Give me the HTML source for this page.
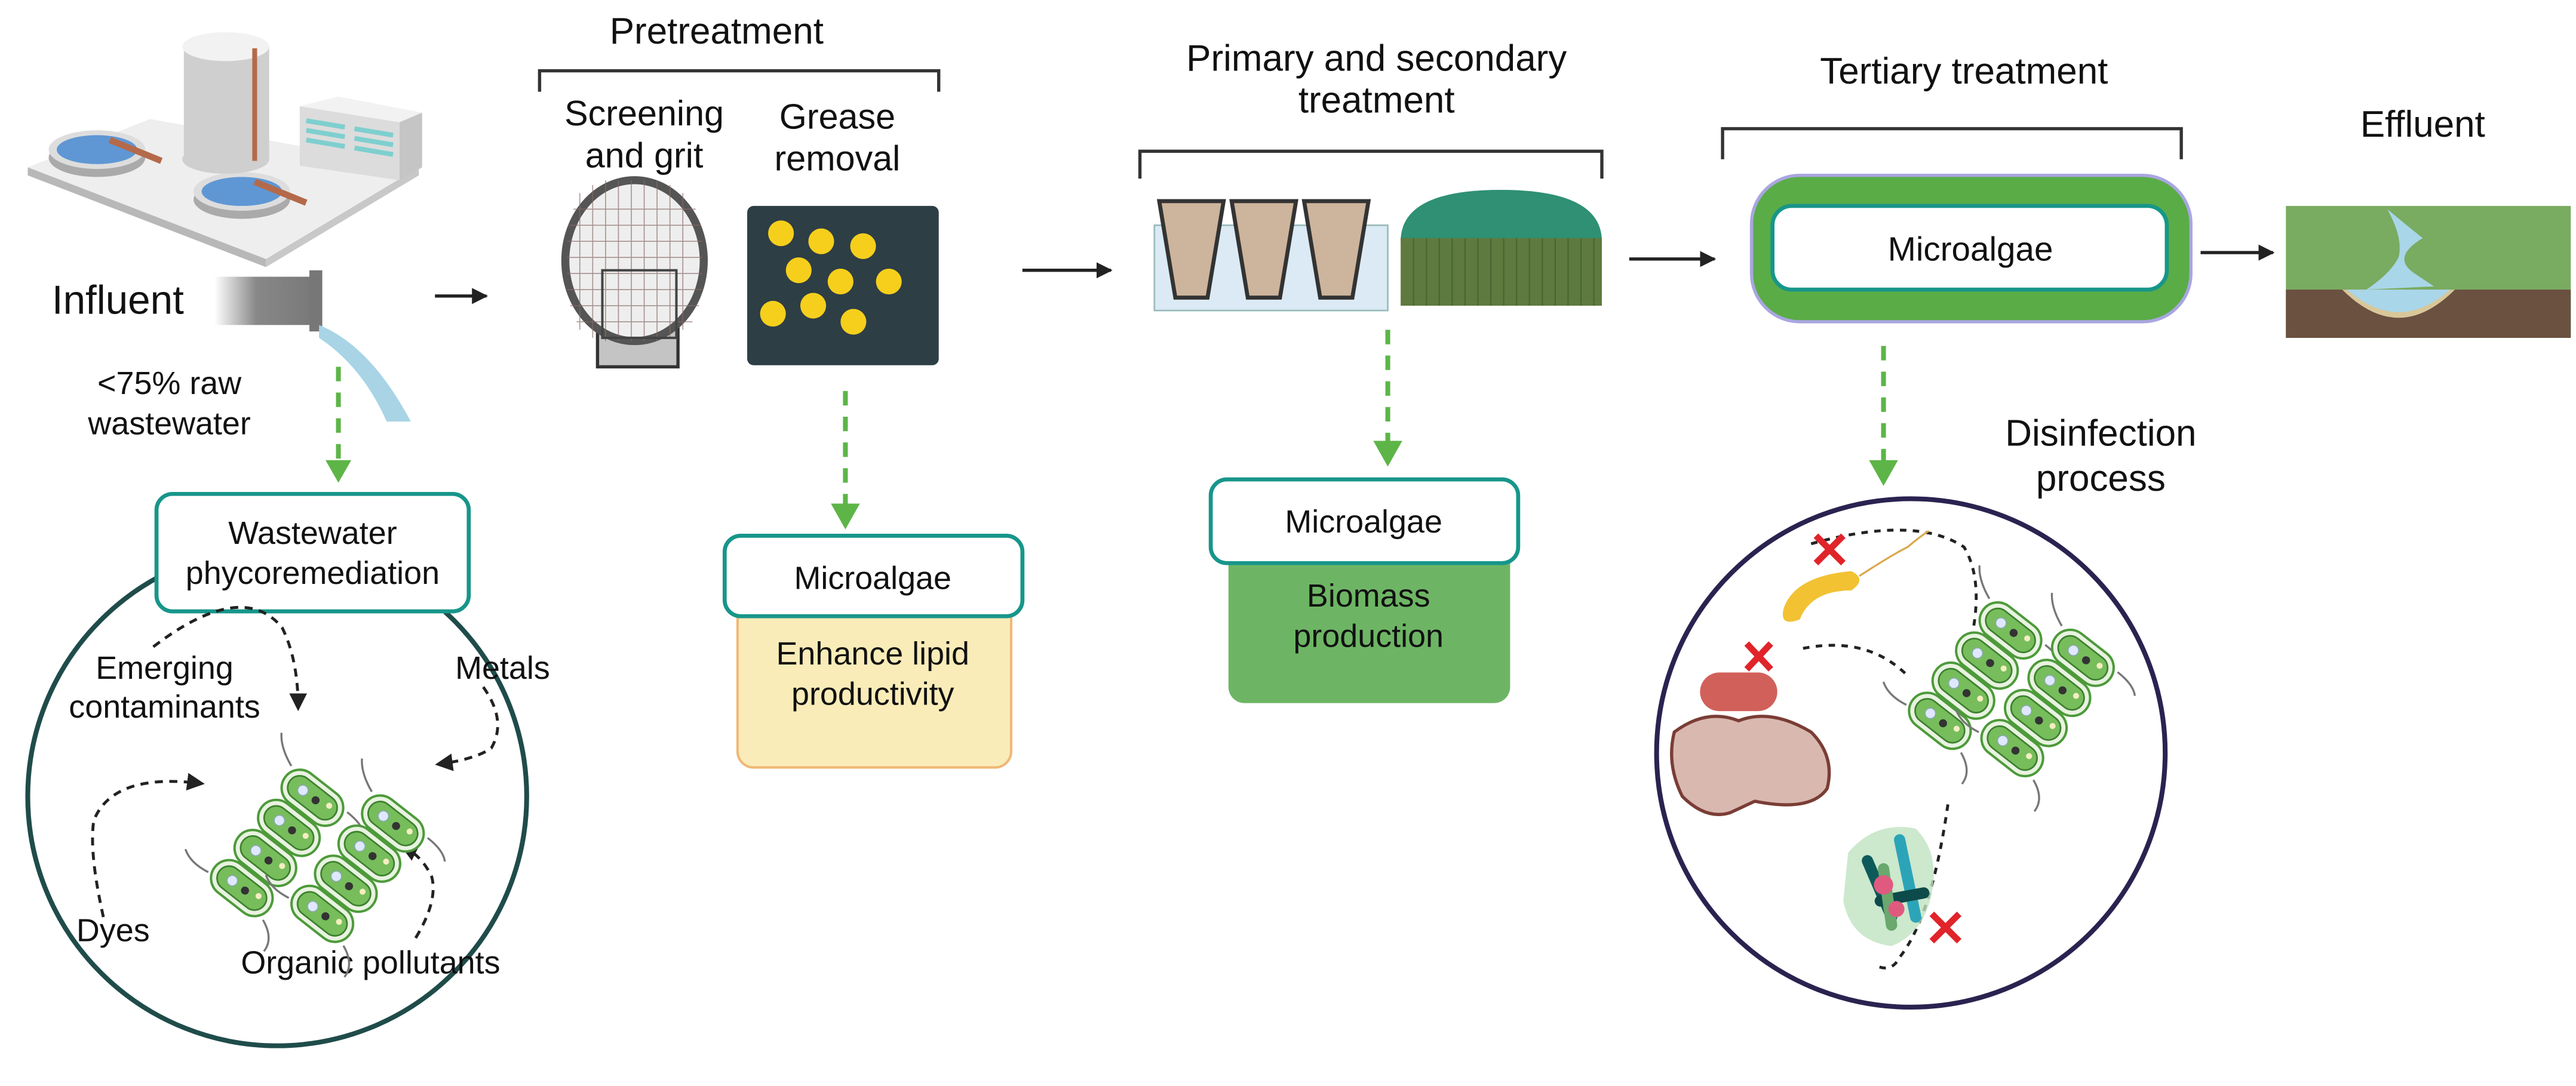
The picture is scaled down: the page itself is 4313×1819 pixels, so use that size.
<!DOCTYPE html>
<html><head><meta charset="utf-8"><style>
html,body{margin:0;padding:0;background:#fff}
svg{display:block}
text{font-family:"Liberation Sans",sans-serif;fill:#111}
</style></head><body>
<svg width="4313" height="1819" viewBox="0 0 1600 675" xmlns="http://www.w3.org/2000/svg">
<defs>
<marker id="ab" markerWidth="10" markerHeight="10" refX="9" refY="5" orient="auto" markerUnits="userSpaceOnUse"><path d="M0,0 L10,5 L0,10 Z" fill="#222"/></marker>
<marker id="ad" markerWidth="11" markerHeight="11" refX="9" refY="5.5" orient="auto" markerUnits="userSpaceOnUse"><path d="M0,0 L11,5.5 L0,11 Z" fill="#222"/></marker>
<linearGradient id="pipe" x1="0" x2="1"><stop offset="0" stop-color="#fff"/><stop offset="0.4" stop-color="#888"/><stop offset="1" stop-color="#777"/></linearGradient>
<g id="cell">
<rect x="-9" y="-17" width="18" height="34" rx="9" fill="#e8f3e0" stroke="#4d9a3a" stroke-width="1.2"/>
<rect x="-6" y="-14" width="12" height="28" rx="6" fill="#77bd5c" stroke="#3d7f2e" stroke-width="0.8"/>
<circle cx="0" cy="-6" r="2.6" fill="#dfe8ff" stroke="#8aa" stroke-width="0.5"/>
<circle cx="0" cy="2" r="2" fill="#333"/>
<circle cx="2" cy="9" r="1.5" fill="#f4eec0"/>
</g>
<g id="chain">
<use href="#cell" x="0" y="0"/><use href="#cell" x="19" y="0"/><use href="#cell" x="38" y="0"/><use href="#cell" x="57" y="0"/>
<path d="M-6,18 q-4,10 -12,10 M63,-18 q4,-10 10,-14 M-4,-18 q-2,-10 2,-16 M62,18 q0,10 -4,14" fill="none" stroke="#777" stroke-width="1"/>
</g>
</defs>

<!-- Plant -->
<g>
<polygon points="17,104 93,74 260,104 165,161" fill="#eeeeee"/>
<polygon points="17,104 165,161 165,166 17,109" fill="#b8b8b8"/>
<polygon points="165,161 260,104 260,109 165,166" fill="#c8c8c8"/>
<ellipse cx="60" cy="98" rx="30" ry="12" fill="#aaa"/><ellipse cx="60" cy="93" rx="30" ry="12" fill="#ddd"/><ellipse cx="60" cy="93" rx="25" ry="9" fill="#5f97d4"/>
<ellipse cx="150" cy="124" rx="30" ry="12" fill="#aaa"/><ellipse cx="150" cy="119" rx="30" ry="12" fill="#ddd"/><ellipse cx="150" cy="119" rx="25" ry="9" fill="#5f97d4"/>
<path d="M68,87 L100,100 M158,113 L190,126" stroke="#b46a4a" stroke-width="4"/>
<rect x="114" y="29" width="53" height="70" fill="#cfcfcf"/><ellipse cx="140" cy="29" rx="27" ry="9" fill="#f2f2f2"/><ellipse cx="140" cy="99" rx="27" ry="9" fill="#cfcfcf"/>
<line x1="158" y1="30" x2="158" y2="100" stroke="#b46a4a" stroke-width="3"/>
<polygon points="186,66 248,76 248,112 186,103" fill="#dcdcdc"/><polygon points="186,66 210,60 262,70 248,76" fill="#f2f2f2"/><polygon points="248,76 262,70 262,104 248,112" fill="#c5c5c5"/>
<path d="M190,75 L214,79 M190,81 L214,85 M190,87 L214,91 M220,80 L244,84 M220,86 L244,90 M220,92 L244,96" stroke="#7fcfcf" stroke-width="3"/>
</g>

<!-- Influent -->
<text x="32" y="195" font-size="25">Influent</text>
<rect x="133" y="172" width="65" height="30" fill="url(#pipe)"/>
<rect x="192" y="168" width="8" height="38" fill="#777"/>
<path d="M198,202 Q230,215 255,262 L240,262 Q225,228 198,210 Z" fill="#a8d4e6"/>
<text x="105" y="245" font-size="20" text-anchor="middle">&lt;75% raw</text>
<text x="105" y="270" font-size="20" text-anchor="middle">wastewater</text>
<line x1="210" y1="228" x2="210" y2="288" stroke="#5db548" stroke-width="3" stroke-dasharray="9,7"/>
<path d="M202,286 L218,286 L210,300 Z" fill="#5db548"/>

<ellipse cx="172" cy="495" rx="155" ry="155" fill="none" stroke="#1f4c4a" stroke-width="3"/>
<rect x="97" y="307" width="194" height="73" rx="10" fill="#fff" stroke="#17968a" stroke-width="2.5"/>
<text x="194" y="338" font-size="20" text-anchor="middle">Wastewater</text>
<text x="194" y="363" font-size="20" text-anchor="middle">phycoremediation</text>
<text x="102" y="422" font-size="20" text-anchor="middle">Emerging</text>
<text x="102" y="446" font-size="20" text-anchor="middle">contaminants</text>
<text x="312" y="422" font-size="20" text-anchor="middle">Metals</text>
<text x="70" y="585" font-size="20" text-anchor="middle">Dyes</text>
<text x="230" y="605" font-size="20" text-anchor="middle">Organic pollutants</text>
<g fill="none" stroke="#222" stroke-width="1.8" stroke-dasharray="5,4">
<path d="M95,402 Q150,360 175,390 Q185,410 185,440" marker-end="url(#ad)"/>
<path d="M300,427 Q315,448 305,465 Q295,472 272,475" marker-end="url(#ad)"/>
<path d="M64,570 Q55,530 58,510 Q70,480 125,487" marker-end="url(#ad)"/>
<path d="M258,583 Q272,560 268,545 Q262,532 250,526" marker-end="url(#ad)"/>
</g>
<g transform="translate(150,552) rotate(-52) scale(1.25)"><use href="#chain"/></g>
<g transform="translate(200,568) rotate(-52) scale(1.25)"><use href="#chain"/></g>

<!-- arrow1 -->
<line x1="270" y1="184" x2="302" y2="184" stroke="#222" stroke-width="2" marker-end="url(#ab)"/>

<!-- Pretreatment -->
<text x="445" y="27" font-size="23" text-anchor="middle">Pretreatment</text>
<path d="M335,57 V44 H583 V57" fill="none" stroke="#333" stroke-width="2"/>
<text x="400" y="78" font-size="22" text-anchor="middle">Screening</text>
<text x="400" y="104" font-size="22" text-anchor="middle">and grit</text>
<text x="520" y="80" font-size="22" text-anchor="middle">Grease</text>
<text x="520" y="106" font-size="22" text-anchor="middle">removal</text>
<rect x="371" y="165" width="50" height="63" fill="#c4c4c4" stroke="#333" stroke-width="2"/>
<ellipse cx="394" cy="162" rx="43" ry="50" fill="#eee" stroke="#555" stroke-width="5"/>
<g stroke="#8a6a6a" stroke-width="0.6" opacity="0.7">
<path d="M360,120 V205 M368,115 V210 M376,112 V212 M384,112 V212 M392,112 V212 M400,112 V212 M408,112 V212 M416,115 V210 M424,120 V205 M356,130 H432 M353,140 H435 M352,150 H436 M352,160 H436 M352,170 H436 M352,180 H436 M354,190 H434 M358,200 H430"/>
</g>
<rect x="374" y="168" width="46" height="42" fill="none" stroke="#444" stroke-width="1.5"/>
<rect x="464" y="128" width="119" height="99" rx="4" fill="#2d3e45"/>
<g fill="#f6cf1c"><circle cx="485" cy="145" r="8"/><circle cx="510" cy="150" r="8"/><circle cx="536" cy="153" r="8"/><circle cx="496" cy="168" r="8"/><circle cx="522" cy="175" r="8"/><circle cx="552" cy="175" r="8"/><circle cx="480" cy="195" r="8"/><circle cx="505" cy="190" r="8"/><circle cx="530" cy="200" r="8"/></g>
<line x1="525" y1="243" x2="525" y2="315" stroke="#5db548" stroke-width="3" stroke-dasharray="9,7"/>
<path d="M516,313 L534,313 L525,329 Z" fill="#5db548"/>
<rect x="458" y="375" width="170" height="102" rx="10" fill="#f9ecb8" stroke="#f0b777" stroke-width="1.5"/>
<rect x="450" y="333" width="185" height="50" rx="10" fill="#fff" stroke="#17968a" stroke-width="2.5"/>
<text x="542" y="366" font-size="20" text-anchor="middle">Microalgae</text>
<text x="542" y="413" font-size="20" text-anchor="middle" fill="#333">Enhance lipid</text>
<text x="542" y="438" font-size="20" text-anchor="middle" fill="#333">productivity</text>

<!-- arrow2 -->
<line x1="635" y1="168" x2="690" y2="168" stroke="#222" stroke-width="2" marker-end="url(#ab)"/>

<!-- Primary & secondary -->
<text x="855" y="44" font-size="23" text-anchor="middle">Primary and secondary</text>
<text x="855" y="70" font-size="23" text-anchor="middle">treatment</text>
<path d="M708,111 V94 H995 V111" fill="none" stroke="#333" stroke-width="2"/>
<rect x="717" y="140" width="145" height="53" fill="#dbeaf4" stroke="#9bb" stroke-width="1"/>
<g fill="#cdb49c" stroke="#333" stroke-width="2.5">
<path d="M720,125 L760,125 L750,185 L730,185 Z"/>
<path d="M765,125 L805,125 L795,185 L775,185 Z"/>
<path d="M810,125 L850,125 L840,185 L820,185 Z"/>
</g>
<path d="M870,150 Q870,118 932,118 Q995,118 995,150 Z" fill="#2f9074"/>
<rect x="870" y="148" width="125" height="42" fill="#5e7a3e"/>
<g stroke="#4a6530" stroke-width="0.8"><path d="M878,148V190M886,148V190M894,148V190M902,148V190M910,148V190M918,148V190M926,148V190M934,148V190M942,148V190M950,148V190M958,148V190M966,148V190M974,148V190M982,148V190M990,148V190"/></g>
<line x1="862" y1="205" x2="862" y2="275" stroke="#5db548" stroke-width="3" stroke-dasharray="9,7"/>
<path d="M853,274 L871,274 L862,290 Z" fill="#5db548"/>
<rect x="763" y="340" width="175" height="97" rx="10" fill="#6db564"/>
<rect x="752" y="298" width="191" height="52" rx="10" fill="#fff" stroke="#17968a" stroke-width="2.5"/>
<text x="847" y="331" font-size="20" text-anchor="middle">Microalgae</text>
<text x="850" y="377" font-size="20" text-anchor="middle" fill="#333">Biomass</text>
<text x="850" y="402" font-size="20" text-anchor="middle" fill="#333">production</text>

<!-- arrow3 -->
<line x1="1012" y1="161" x2="1065" y2="161" stroke="#222" stroke-width="2" marker-end="url(#ab)"/>

<!-- Tertiary -->
<text x="1220" y="52" font-size="23" text-anchor="middle">Tertiary  treatment</text>
<path d="M1070,99 V80 H1355 V99" fill="none" stroke="#333" stroke-width="2"/>
<rect x="1088" y="109" width="273" height="91" rx="30" fill="#5aac46" stroke="#a9a6e0" stroke-width="2"/>
<rect x="1101" y="128" width="245" height="52" rx="12" fill="#fff" stroke="#17968a" stroke-width="2.5"/>
<text x="1224" y="162" font-size="21" text-anchor="middle">Microalgae</text>

<line x1="1367" y1="157" x2="1412" y2="157" stroke="#222" stroke-width="2" marker-end="url(#ab)"/>
<text x="1505" y="85" font-size="23" text-anchor="middle">Effluent</text>
<rect x="1420" y="128" width="177" height="82" fill="#79ab61"/>
<rect x="1420" y="180" width="177" height="30" fill="#6b5140"/>
<path d="M1455,180 Q1490,215 1525,180 Z" fill="#d8c79a"/>
<path d="M1458,180 Q1490,208 1522,180 Z" fill="#a9d6e8"/>
<path d="M1483,130 Q1495,140 1505,148 Q1485,160 1500,170 L1512,178 L1470,180 Q1485,170 1490,160 Q1493,148 1483,130 Z" fill="#a9d6e8"/>

<line x1="1170" y1="215" x2="1170" y2="287" stroke="#5db548" stroke-width="3" stroke-dasharray="9,7"/>
<path d="M1161,286 L1179,286 L1170,302 Z" fill="#5db548"/>
<text x="1305" y="277" font-size="23" text-anchor="middle">Disinfection</text>
<text x="1305" y="305" font-size="23" text-anchor="middle">process</text>
<circle cx="1187" cy="468" r="158" fill="none" stroke="#2a2350" stroke-width="3"/>
<g fill="none" stroke="#222" stroke-width="1.8" stroke-dasharray="4,4">
<path d="M1125,338 Q1190,320 1220,340 Q1232,360 1225,395"/>
<path d="M1120,403 Q1160,395 1185,420"/>
<path d="M1210,500 Q1200,570 1180,595 Q1175,605 1165,600"/>
</g>
<path d="M1108,378 Q1115,358 1150,355 Q1160,360 1150,367 Q1125,367 1118,385 Q1105,390 1108,378 Z" fill="#f2c233"/>
<path d="M1155,358 Q1175,345 1185,340 Q1192,334 1198,330" fill="none" stroke="#d9a84c" stroke-width="1.2"/>
<rect x="1056" y="418" width="48" height="24" rx="12" fill="#d2605a"/>
<path d="M1040,455 Q1060,440 1080,448 Q1100,440 1125,455 Q1140,470 1135,490 Q1125,505 1090,498 L1075,505 Q1060,510 1045,495 Q1035,475 1040,455 Z" fill="#d9b8b0" stroke="#7a3d35" stroke-width="2"/>
<path d="M1148,530 Q1165,510 1190,515 Q1205,530 1200,555 Q1195,580 1175,588 Q1150,585 1145,560 Z" fill="#bfe2c0" opacity="0.8"/>
<g stroke-linecap="round" stroke-width="7">
<line x1="1160" y1="535" x2="1175" y2="570" stroke="#0e5a5a"/><line x1="1180" y1="522" x2="1190" y2="570" stroke="#2ca4b8"/><line x1="1168" y1="560" x2="1195" y2="555" stroke="#0d4a4a"/><line x1="1175" y1="575" x2="1170" y2="540" stroke="#6aa86e"/>
</g>
<circle cx="1170" cy="550" r="6" fill="#e05a80"/><circle cx="1178" cy="565" r="5" fill="#e05a80"/>
<g stroke="#e0242a" stroke-width="4">
<path d="M1128,333 L1145,350 M1145,333 L1128,350"/>
<path d="M1085,400 L1100,416 M1100,400 L1085,416"/>
<path d="M1200,568 L1217,585 M1217,568 L1200,585"/>
</g>
<g transform="translate(1205,448) rotate(-52) scale(1.25)"><use href="#chain"/></g>
<g transform="translate(1250,465) rotate(-52) scale(1.25)"><use href="#chain"/></g>
</svg>
</body></html>
